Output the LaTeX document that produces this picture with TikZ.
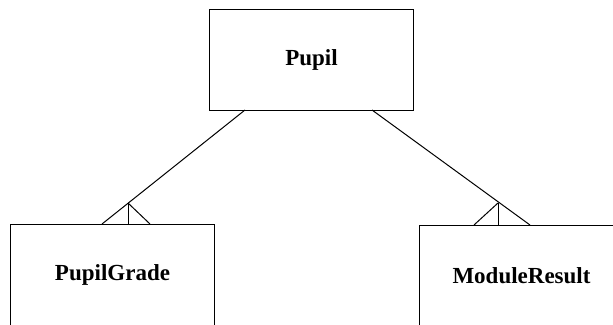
\documentclass[tikz,border=0pt]{standalone}
\usepackage{fontspec}
\setmainfont{Liberation Serif}
\begin{document}
\begin{tikzpicture}[x=1pt,y=-1pt,
  entity/.style={draw,line width=1pt,minimum width=204pt,minimum height=101pt,inner sep=0pt,
    font=\fontsize{23}{27}\selectfont\bfseries,anchor=north west},
  rel/.style={line width=1pt}]
\useasboundingbox (0,0) rectangle (613,324);
\clip (0,0) rectangle (613,324);
\node[entity] (pupil) at (209,9) {Pupil};
\node[entity] (grade) at (10,224) {PupilGrade};
\node[entity] (result) at (419,225) {ModuleResult};
% left relationship
\coordinate (la) at (245,110);
\coordinate (lv) at (128,203);
\coordinate (l1) at (102,224);
\coordinate (l2) at (128,224);
\coordinate (l3) at (150,224);
\draw[rel] (la) -- (l1);
\draw[rel] (lv) -- (l2);
\draw[rel] (lv) -- (l3);
% right relationship
\coordinate (ra) at (372,110);
\coordinate (rv) at (498,203);
\coordinate (r1) at (530,225);
\coordinate (r2) at (498,225);
\coordinate (r3) at (474,225);
\draw[rel] (ra) -- (r1);
\draw[rel] (rv) -- (r2);
\draw[rel] (rv) -- (r3);
\end{tikzpicture}
\end{document}
